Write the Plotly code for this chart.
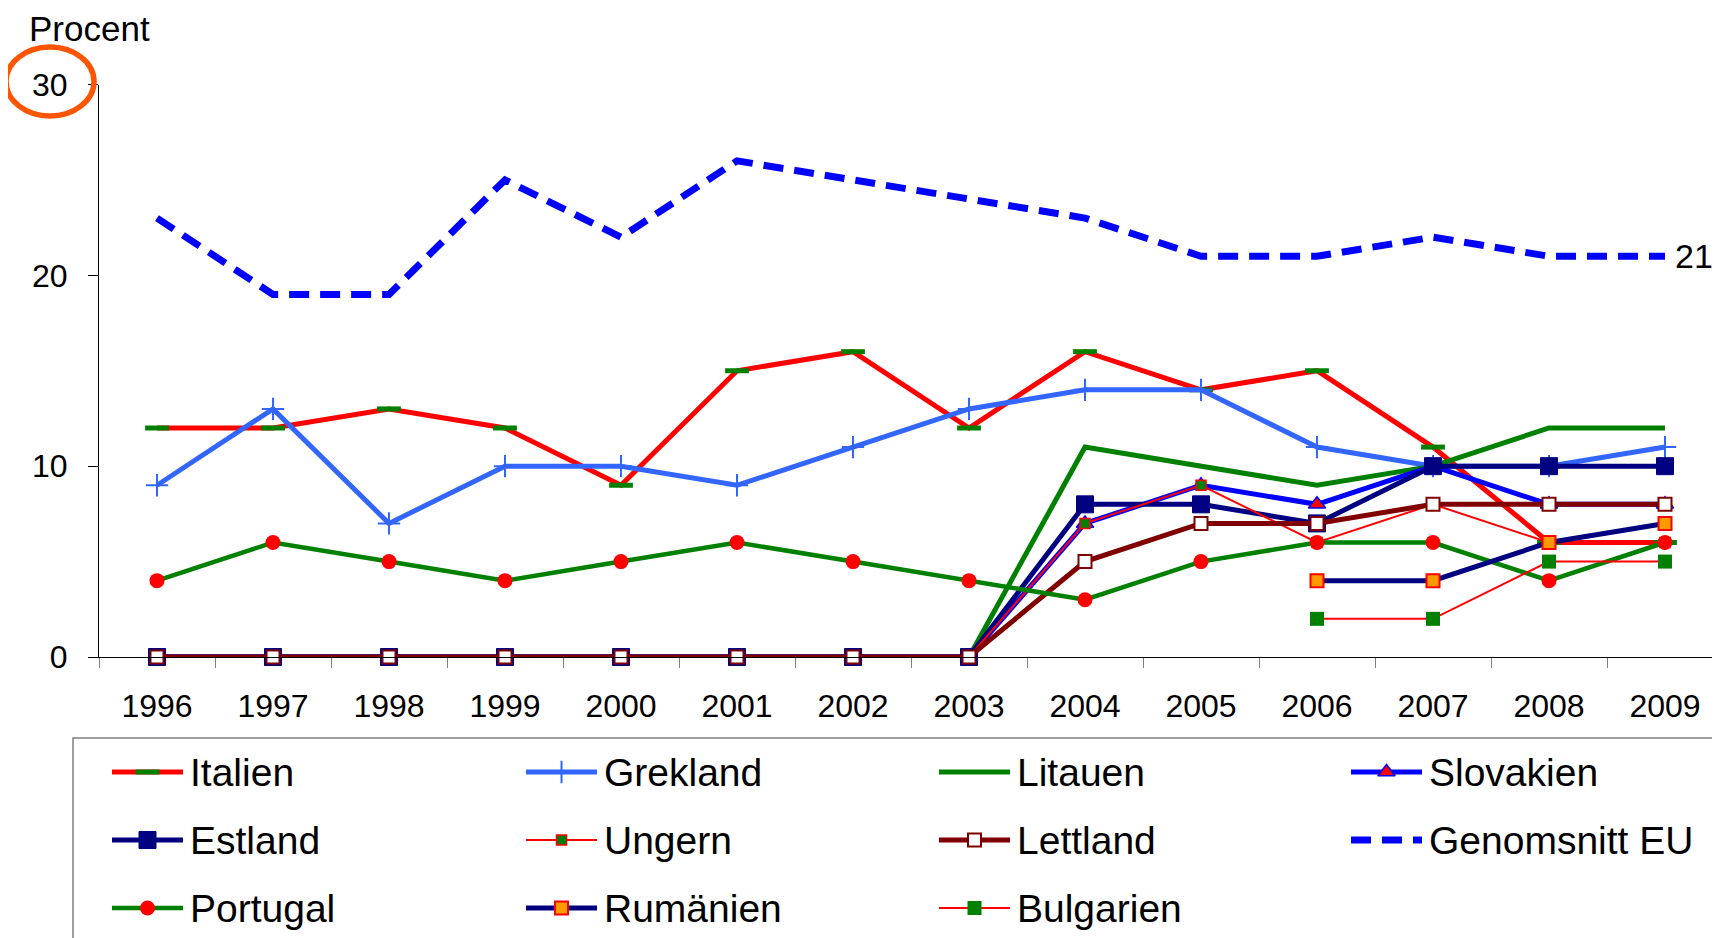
import plotly.graph_objects as go

W, H = 1720, 938
OFF = 8  # page body margin: figure px = screen px - OFF
FONT = "Liberation Sans, Arial, sans-serif"

years = [str(y) for y in range(1996, 2010)]

italien = [12, 12, 13, 12, 9, 15, 16, 12, 16, 14, 15, 11, 6, 6]
grekland = [9, 13, 7, 10, 10, 9, 11, 13, 14, 14, 11, 10, 10, 11]
litauen = [0, 0, 0, 0, 0, 0, 0, 0, 11, 10, 9, 10, 12, 12]
slovakien = [0, 0, 0, 0, 0, 0, 0, 0, 7, 9, 8, 10, 8, 8]
estland = [0, 0, 0, 0, 0, 0, 0, 0, 8, 8, 7, 10, 10, 10]
ungern = [0, 0, 0, 0, 0, 0, 0, 0, 7, 9, 6, 8, 6, 6]
lettland = [0, 0, 0, 0, 0, 0, 0, 0, 5, 7, 7, 8, 8, 8]
genomsnitt_eu = [23, 19, 19, 25, 22, 26, 25, 24, 23, 21, 21, 22, 21, 21]
portugal = [4, 6, 5, 4, 5, 6, 5, 4, 3, 5, 6, 6, 4, 6]
rumanien = [None] * 10 + [4, 4, 6, 7]
bulgarien = [None] * 10 + [2, 2, 5, 5]

# name, values, line, marker  (order = legend order, row by row)
series = [
    ("Italien", italien, dict(color="#FF0000", width=5),
     dict(symbol="line-ew-open", size=17, color="#008000", line=dict(color="#008000", width=5))),
    ("Grekland", grekland, dict(color="#3366FF", width=5),
     dict(symbol="cross-thin-open", size=16, color="#3366FF", line=dict(color="#3366FF", width=2))),
    ("Litauen", litauen, dict(color="#008000", width=5), None),
    ("Slovakien", slovakien, dict(color="#0000FF", width=5),
     dict(symbol="triangle-up", size=15, color="#FF0000", line=dict(color="#0000FF", width=1.5))),
    ("Estland", estland, dict(color="#000080", width=5),
     dict(symbol="square", size=17, color="#000080", line=dict(color="#000080", width=1))),
    ("Ungern", ungern, dict(color="#FF0000", width=2),
     dict(symbol="square", size=10, color="#008000", line=dict(color="#FF0000", width=1.5))),
    ("Lettland", lettland, dict(color="#800000", width=5),
     dict(symbol="square", size=13, color="white", line=dict(color="#800000", width=2))),
    ("Genomsnitt EU", genomsnitt_eu, dict(color="#0000FF", width=7, dash="20px,11px"), None),
    ("Portugal", portugal, dict(color="#008000", width=4.5),
     dict(symbol="circle", size=15, color="#FF0000", line=dict(color="#FF0000", width=0))),
    ("Rumänien", rumanien, dict(color="#000080", width=5),
     dict(symbol="square", size=13, color="#FF9900", line=dict(color="#FF0000", width=2))),
    ("Bulgarien", bulgarien, dict(color="#FF0000", width=2),
     dict(symbol="square", size=14, color="#008000", line=dict(color="#008000", width=0))),
]

fig = go.Figure()

for name, vals, line, marker in series:
    fig.add_trace(go.Scatter(
        x=years, y=vals, name=name,
        mode="lines+markers" if marker else "lines",
        line=line, marker=marker, cliponaxis=False, showlegend=False,
    ))

# hand-drawn legend on a pixel-coordinate overlay (x2/y2, screen px)
col_x = [112, 526, 939, 1351]
row_y = [772, 840, 908]
sym_w = 71
for i, (name, vals, line, marker) in enumerate(series):
    x0 = col_x[i % 4]
    y0 = row_y[i // 4]
    fig.add_trace(go.Scatter(
        x=[x0, x0 + sym_w], y=[y0, y0], mode="lines", line=line,
        xaxis="x2", yaxis="y2", showlegend=False, hoverinfo="skip", cliponaxis=False,
    ))
    if marker:
        fig.add_trace(go.Scatter(
            x=[x0 + sym_w / 2], y=[y0], mode="markers", marker=marker,
            xaxis="x2", yaxis="y2", showlegend=False, hoverinfo="skip", cliponaxis=False,
        ))
    fig.add_annotation(
        x=x0 + sym_w + 5, y=y0, xref="x2", yref="y2", text=name, showarrow=False,
        xanchor="left", yanchor="middle", font=dict(size=39, color="black"),
    )

# legend frame
fig.add_shape(type="rect", xref="x2", yref="y2", x0=73, x1=1740, y0=738, y1=960,
              line=dict(color="#7f7f7f", width=1.5), layer="below")

# y-axis title and circled top tick
fig.add_annotation(x=28, y=OFF, xref="x2", yref="y2", text="Procent", showarrow=False,
                   xanchor="left", yanchor="top", borderpad=0,
                   font=dict(size=35, color="black"))
fig.add_shape(type="circle", xref="x2", yref="y2", x0=6, x1=94, y0=47, y1=116,
              line=dict(color="#FF5500", width=5.5))

# end value of the EU average (category axes take the index for annotations)
fig.add_annotation(x=len(years) - 1, y=genomsnitt_eu[-1], xref="x", yref="y",
                   text=str(genomsnitt_eu[-1]), showarrow=False, xanchor="left",
                   yanchor="middle", xshift=8, font=dict(size=34, color="black"))

# plot area in screen px: left 99, right 1723, y=0 at 657, y=30 at 84.5
x_left, x_right = 99 - OFF, W
y_bot, y_top = 657 - OFF, 84.5 - OFF
cat_px = (1723 - 99) / 14

fig.update_layout(
    width=W, height=H,
    margin=dict(l=0, r=0, t=0, b=0, autoexpand=False),
    paper_bgcolor="white",
    plot_bgcolor="rgba(0,0,0,0)",
    font=dict(family=FONT, color="black"),
    showlegend=False,
    xaxis=dict(
        type="category", domain=[x_left / W, 1.0],
        range=[-0.5, -0.5 + (x_right - x_left) / cat_px],
        showline=True, linecolor="black", linewidth=1,
        ticks="outside", tickson="boundaries", ticklen=10, tickcolor="#808080",
        tickfont=dict(size=32), ticklabelstandoff=21, automargin=False,
        showgrid=False, zeroline=False, fixedrange=True,
    ),
    yaxis=dict(
        domain=[(H - y_bot) / H, (H - y_top) / H], range=[0, 30],
        tickvals=[0, 10, 20, 30],
        showline=True, linecolor="black", linewidth=1,
        ticks="outside", ticklen=10, tickcolor="black",
        tickfont=dict(size=32), ticklabelstandoff=14, automargin=False,
        showgrid=False, zeroline=False, fixedrange=True,
    ),
    xaxis2=dict(domain=[0, 1], range=[OFF, W + OFF], visible=False, anchor="y2",
                fixedrange=True, automargin=False),
    yaxis2=dict(domain=[0, 1], range=[H + OFF, OFF], visible=False, anchor="x2",
                fixedrange=True, automargin=False),
)

fig.write_html("out.html", config={"displayModeBar": False})
